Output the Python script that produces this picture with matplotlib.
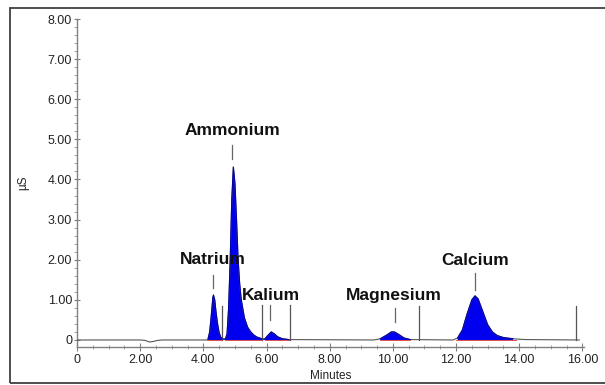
import matplotlib
matplotlib.use("Agg")
import matplotlib.pyplot as plt
from matplotlib.patches import Rectangle
from matplotlib.ticker import MultipleLocator
import numpy as np

plt.rcParams['font.family'] = ['Liberation Sans', 'DejaVu Sans']

# Chromatogram trace (minutes, µS)
time = [0.0, 2.0, 2.15, 2.3, 2.4, 2.55, 2.7, 4.1,
        4.15, 4.2, 4.25, 4.3, 4.32, 4.36, 4.4, 4.45, 4.5, 4.55, 4.6,
        4.7, 4.75, 4.8, 4.85, 4.9, 4.95, 5.0, 5.05, 5.1, 5.15, 5.2, 5.3, 5.4, 5.5, 5.6, 5.7, 5.85,
        5.95, 6.05, 6.15, 6.25, 6.35, 6.5, 6.7,
        9.4, 9.6, 9.8, 9.95, 10.05, 10.2, 10.35, 10.55,
        11.9, 12.05, 12.2, 12.35, 12.5, 12.6, 12.7, 12.85, 13.0, 13.15, 13.3, 13.5, 13.8, 14.2, 15.9]
signal = [0.0, 0.0, -0.01, -0.05, -0.04, -0.01, 0.0, 0.0,
          0.03, 0.2, 0.6, 1.05, 1.12, 1.0, 0.7, 0.4, 0.18, 0.07, 0.03,
          0.03, 0.15, 0.8, 2.0, 3.5, 4.31, 3.9, 3.0, 2.0, 1.4, 1.0, 0.55, 0.32, 0.2, 0.12, 0.07, 0.03,
          0.03, 0.12, 0.2, 0.15, 0.08, 0.03, 0.01,
          0.0, 0.03, 0.12, 0.2, 0.2, 0.13, 0.05, 0.01,
          0.0, 0.05, 0.25, 0.65, 1.0, 1.1, 1.02, 0.7, 0.38, 0.2, 0.11, 0.06, 0.03, 0.01, 0.0]

# Peaks
peak_names = ['Natrium', 'Ammonium', 'Kalium', 'Magnesium', 'Calcium']
peak_start = [4.13, 4.7, 5.95, 9.6, 12.0]
peak_end = [4.6, 5.85, 6.7, 10.55, 13.9]
label_x = [4.30, 4.92, 6.15, 10.03, 12.59]
label_y = [2.0, 5.21, 1.1, 1.1, 1.97]
marker_x = [4.32, 4.92, 6.12, 10.06, 12.59]
marker_lo = [1.3, 4.5, 0.5, 0.45, 1.25]
marker_hi = [1.62, 4.86, 0.87, 0.8, 1.67]

# Integration event lines
event_x = [4.6, 5.87, 6.75, 10.82, 15.8]
event_h = [0.85, 0.87, 0.87, 0.85, 0.85]

x_ticks = [0, 2, 4, 6, 8, 10, 12, 14, 16]
x_labels = ['0', '2.00', '4.00', '6.00', '8.00', '10.00', '12.00', '14.00', '16.00']
y_ticks = [0, 1, 2, 3, 4, 5, 6, 7, 8]
y_labels = ['0', '1.00', '2.00', '3.00', '4.00', '5.00', '6.00', '7.00', '8.00']

fig = plt.figure(figsize=(6.05, 3.85), dpi=100)
fig.patch.set_facecolor('white')
ax = fig.add_axes([77/605, 1-347/385, (584-77)/605, (347-19)/385])

t = np.array(time)
s = np.array(signal)
mask = np.zeros_like(t, dtype=bool)
for a, b in zip(peak_start, peak_end):
    mask |= (t >= a) & (t <= b)
ax.fill_between(t, s, 0, where=mask, color='#0000ee', linewidth=0, zorder=2)
ax.plot(t, s, color='#555555', lw=0.8, zorder=3)
for a, b in zip(peak_start, peak_end):
    sel = (t >= a) & (t <= b)
    ax.plot(t[sel], s[sel], color='#0000b0', lw=0.8, zorder=3.5)
    ax.plot([a, b], [0, 0], color='#d83030', lw=0.6, zorder=4)

for x, h in zip(event_x, event_h):
    ax.plot([x, x], [0, h], color='#555555', lw=0.9, zorder=3)

for name, lx, ly, mx, lo, hi in zip(peak_names, label_x, label_y, marker_x, marker_lo, marker_hi):
    ax.plot([mx, mx], [lo, hi], color='#666666', lw=0.9, zorder=3)
    ax.text(lx, ly, name, ha='center', va='center', fontsize=12.5,
            fontweight='bold', color='#111111', zorder=5)

ax.set_xlim(0, 16.05)
ax.set_ylim(-0.175, 8.0)
ax.set_xticks(x_ticks)
ax.set_xticklabels(x_labels)
ax.set_yticks(y_ticks)
ax.set_yticklabels(y_labels)
ax.xaxis.set_minor_locator(MultipleLocator(0.5))
ax.yaxis.set_minor_locator(MultipleLocator(0.2))

for sp in ['top', 'right']:
    ax.spines[sp].set_visible(False)
for sp in ['left', 'bottom']:
    ax.spines[sp].set_color('#808080')
    ax.spines[sp].set_linewidth(1.0)

ax.tick_params(axis='x', which='major', direction='inout', length=6, width=0.8,
               color='#808080', labelsize=9, labelcolor='#222222', pad=2)
ax.tick_params(axis='x', which='minor', direction='inout', length=3, width=0.6, color='#909090')
ax.tick_params(axis='y', which='major', direction='inout', length=5, width=0.8,
               color='#808080', labelsize=9, labelcolor='#222222', pad=1)
ax.tick_params(axis='y', which='minor', direction='out', length=2, width=0.6, color='#909090')

ax.set_xlabel('Minutes', fontsize=8.5, color='#222222', labelpad=3)
ax.set_ylabel('µS', fontsize=8.5, color='#222222', labelpad=13)

fig.add_artist(Rectangle((10/605, 2/385), 1.0, 1-2/385-8/385, transform=fig.transFigure,
                         fill=False, edgecolor='#404040', lw=1.3, clip_on=False))

fig.savefig('out.png', dpi=100, facecolor='white')
